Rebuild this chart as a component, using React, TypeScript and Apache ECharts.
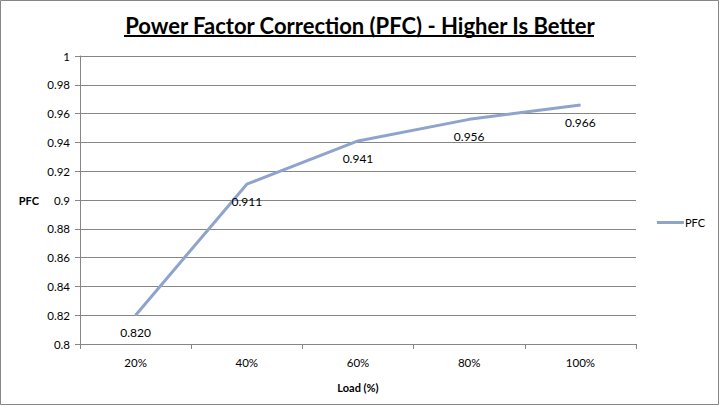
import React, { useEffect, useRef } from "react";
import * as echarts from "echarts";

const categories = ["20%", "40%", "60%", "80%", "100%"];
const pfcValues = [0.82, 0.911, 0.941, 0.956, 0.966];
const seriesName = "PFC";
const titleText = "Power Factor Correction (PFC) - Higher Is Better";

const FONT = "Lato, 'Open Sans', sans-serif";
const LINE_COLOR = "#8EA4CC";

export default function App() {
  const ref = useRef<HTMLDivElement>(null);
  useEffect(() => {
    document.body.style.margin = "0";
    const chart = echarts.init(ref.current!, null, { renderer: "svg" });
    chart.setOption({
      animation: false,
      backgroundColor: "#ffffff",
      textStyle: { fontFamily: FONT },
      title: {
        text: titleText,
        left: "center",
        top: 9,
        textStyle: { fontFamily: FONT, fontSize: 22, fontWeight: "bold", color: "#000" },
      },
      legend: {
        data: [seriesName],
        orient: "vertical",
        right: 10,
        top: 212,
        itemWidth: 27,
        itemHeight: 3,
        itemGap: 2,
        icon: "rect",
        textStyle: { fontFamily: FONT, fontSize: 11, color: "#000", padding: [0, 0, 0, -4] },
      },
      grid: { left: 80, top: 56, width: 556, height: 288, containLabel: false },
      xAxis: {
        type: "category",
        data: categories,
        boundaryGap: true,
        name: "Load (%)",
        nameLocation: "middle",
        nameGap: 38,
        nameTextStyle: { fontFamily: FONT, fontSize: 11, fontWeight: "bold", color: "#000" },
        axisLine: { lineStyle: { color: "#868686", width: 1 } },
        axisTick: { show: true, alignWithLabel: false, length: 5, lineStyle: { color: "#868686" } },
        axisLabel: { fontFamily: FONT, fontSize: 11.5, color: "#000", margin: 12 },
        splitLine: { show: false },
      },
      yAxis: {
        type: "value",
        min: 0.8,
        max: 1,
        interval: 0.02,
        name: "PFC",
        nameLocation: "middle",
        nameRotate: 0,
        nameGap: 41,
        nameTextStyle: { fontFamily: FONT, fontSize: 11, fontWeight: "bold", color: "#000" },
        axisLine: { show: true, lineStyle: { color: "#868686", width: 1 } },
        axisTick: { show: true, length: 5, lineStyle: { color: "#868686" } },
        axisLabel: {
          fontFamily: FONT,
          fontSize: 11.5,
          color: "#000",
          margin: 10,
          formatter: (v: number) => String(parseFloat(v.toFixed(2))),
        },
        splitLine: { show: true, lineStyle: { color: "#868686", width: 1 } },
      },
      series: [
        {
          name: seriesName,
          type: "line",
          data: pfcValues,
          showSymbol: true,
          symbol: "circle",
          symbolSize: 1,
          lineStyle: { color: LINE_COLOR, width: 3 },
          itemStyle: { color: LINE_COLOR },
          label: {
            show: true,
            position: "bottom",
            distance: 11,
            fontFamily: FONT,
            fontSize: 12,
            color: "#000",
            formatter: (p: any) => (p.value as number).toFixed(3),
          },
        },
      ],
      graphic: [
        {
          type: "rect",
          shape: { x: 0.5, y: 0.5, width: 718, height: 404 },
          style: { fill: "none", stroke: "#868686", lineWidth: 1 },
          silent: true,
        },
        {
          type: "line",
          shape: { x1: 124, y1: 36, x2: 594, y2: 36 },
          style: { stroke: "#000", lineWidth: 2 },
          silent: true,
        },
      ],
    });
    return () => chart.dispose();
  }, []);
  return <div ref={ref} style={{ width: 720, height: 406, position: "absolute", left: 0, top: 0 }} />;
}
